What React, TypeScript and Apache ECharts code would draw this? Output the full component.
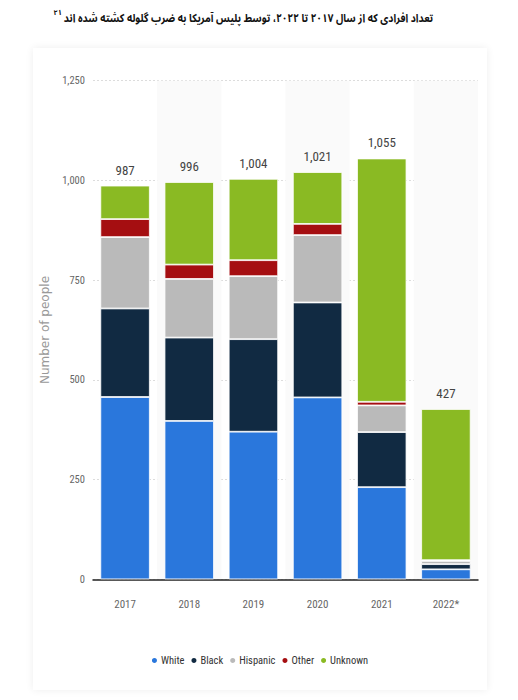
import React, { useEffect, useRef } from "react";
import * as echarts from "echarts";

const categories = ["2017", "2018", "2019", "2020", "2021", "2022*"];
const white = [457, 397, 370, 456, 231, 25];
const black = [222, 209, 232, 238, 138, 13];
const hispanic = [179, 147, 158, 169, 67, 8];
const other = [45, 36, 40, 28, 9, 2];
const unknown = [84, 207, 204, 130, 610, 379];
const totals = [987, 996, 1004, 1021, 1055, 427];
const seriesNames = ["White", "Black", "Hispanic", "Other", "Unknown"];
const yTicks = [0, 250, 500, 750, 1000, 1250];

const titleText = "تعداد افرادی که از سال ۲۰۱۷ تا ۲۰۲۲، توسط پلیس آمریکا به ضرب گلوله کشته شده اند";
const titleNote = "۲۱";
const yAxisTitle = "Number of people";

const COLORS = ["#2a77dc", "#112a42", "#bababa", "#a50e11", "#8aba23"];
const NARROW = "'Roboto Condensed', 'Liberation Sans Narrow', 'DejaVu Sans Condensed', 'Roboto', sans-serif";
const ARABIC = "'Noto Sans Arabic', 'DejaVu Sans', sans-serif";
const TITLE_SIZE = 11.5;
const fmt = (v: number) => v.toLocaleString("en-US");

function measure(text: string, font: string) {
  const c = document.createElement("canvas").getContext("2d");
  if (!c) return 440;
  c.font = font;
  return c.measureText(text).width || 440;
}

export default function App() {
  const ref = useRef<HTMLDivElement>(null);
  useEffect(() => {
    if (!ref.current) return;
    const chart = echarts.init(ref.current, undefined, { renderer: "svg" });
    const dataSets = [white, black, hispanic, other, unknown];
    const targetW = 392;
    const W = measure(titleText, `bold ${TITLE_SIZE}px ${ARABIC}`) * 1.06;
    const sx = Math.min(1, targetW / W);
    chart.setOption({
      animation: false,
      backgroundColor: "transparent",
      textStyle: { fontFamily: NARROW },
      graphic: [
        {
          type: "text",
          x: 248.5,
          y: 18,
          scaleX: sx,
          style: {
            text: titleText,
            fontSize: TITLE_SIZE,
            fontWeight: "bold",
            fontFamily: ARABIC,
            fill: "#111",
            textAlign: "center",
            textVerticalAlign: "middle",
          },
        },
        {
          type: "text",
          x: 62,
          y: 13,
          style: {
            text: titleNote,
            fontSize: 7.5,
            fontWeight: "bold",
            fontFamily: ARABIC,
            fill: "#111",
            textAlign: "right",
            textVerticalAlign: "middle",
          },
        },
      ],
      legend: {
        data: seriesNames,
        bottom: 29,
        left: "center",
        icon: "path://M5,0 A5,5 0 1 1 5,10 A5,5 0 1 1 5,0 Z",
        itemWidth: 7,
        itemHeight: 11,
        itemGap: 5,
        textStyle: { fontFamily: NARROW, fontSize: 10.5, color: "#333", padding: [0, 0, 0, -2] },
      },
      grid: { left: 93, right: 40, top: 80.7, bottom: 120.7 },
      xAxis: {
        type: "category",
        data: categories,
        axisLine: { lineStyle: { color: "#222", width: 1.5 } },
        axisTick: { show: false },
        axisLabel: { color: "#666", fontSize: 11, margin: 20, fontFamily: NARROW },
        splitArea: { show: true, areaStyle: { color: ["rgba(255,255,255,0)", "#fafafa"] } },
      },
      yAxis: {
        type: "value",
        min: yTicks[0],
        max: yTicks[yTicks.length - 1],
        interval: 250,
        name: yAxisTitle,
        nameLocation: "middle",
        nameGap: 33,
        nameTextStyle: { color: "#999", fontSize: 12, fontFamily: "'DejaVu Sans', sans-serif" },
        axisLine: { show: false },
        axisTick: { show: false },
        axisLabel: { color: "#666", fontSize: 10.5, margin: 8, formatter: (v: number) => fmt(v) },
        splitLine: { lineStyle: { color: "#dcdcdc", type: [2, 2] } },
      },
      series: seriesNames.map((name, i) => ({
        name,
        type: "bar",
        stack: "total",
        barCategoryGap: "23%",
        data: dataSets[i],
        itemStyle: { color: COLORS[i], borderColor: "#fff", borderWidth: 0.8 },
        label:
          i === seriesNames.length - 1
            ? {
                show: true,
                position: "top",
                distance: 9,
                color: "#444",
                fontSize: 13,
                fontFamily: NARROW,
                formatter: (p: any) => fmt(totals[p.dataIndex]),
              }
            : { show: false },
      })),
      color: COLORS,
    });
    return () => chart.dispose();
  }, []);
  return (
    <div style={{ position: "absolute", left: 0, top: 0, width: 518, height: 700, background: "#fff" }}>
      <div
        style={{
          position: "absolute",
          left: 33,
          top: 48,
          width: 454,
          height: 642,
          boxShadow: "0 0 8px rgba(0,0,0,0.07)",
          background: "#fff",
        }}
      />
      <div ref={ref} style={{ position: "absolute", left: 0, top: 0, width: 518, height: 700 }} />
    </div>
  );
}
